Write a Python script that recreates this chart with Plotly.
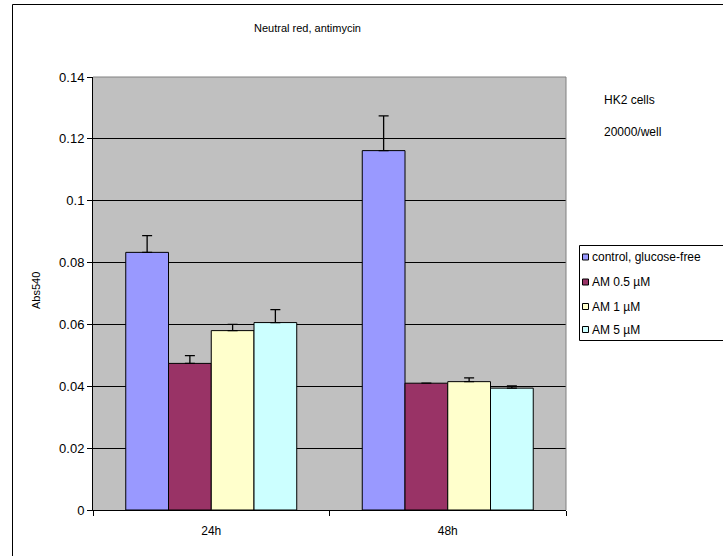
import plotly.graph_objects as go

categories = ["24h", "48h"]
series_names = ["control, glucose-free", "AM 0.5 µM", "AM 1 µM", "AM 5 µM"]
control = [0.0833, 0.1162]
am05 = [0.0474, 0.0410]
am1 = [0.0580, 0.0415]
am5 = [0.0606, 0.0394]
control_err = [0.0054, 0.0112]
am05_err = [0.0025, 0.0]
am1_err = [0.0020, 0.0012]
am5_err = [0.0042, 0.0007]
colors = ["#9999FF", "#993366", "#FFFFCC", "#CCFFFF"]
y_ticks = [0, 0.02, 0.04, 0.06, 0.08, 0.1, 0.12, 0.14]
y_tick_labels = ["0", "0.02", "0.04", "0.06", "0.08", "0.1", "0.12", "0.14"]

W, H = 723, 556
L, R, T, B = 93, 566, 77, 510
pw, ph = R - L, B - T

def px(x):
    return (x - L) / pw

def py(y):
    return (B - y) / ph

font = "Liberation Sans, Arial, sans-serif"
fig = go.Figure()
for name, vals, errs, col in zip(series_names, [control, am05, am1, am5],
                                  [control_err, am05_err, am1_err, am5_err], colors):
    fig.add_trace(go.Bar(
        x=categories, y=vals, name=name, showlegend=False,
        marker=dict(color=col, line=dict(color="#000000", width=1)),
        error_y=dict(type="data", array=errs, symmetric=False, arrayminus=[0, 0],
                     color="#000000", thickness=1.3, width=5),
    ))

def seg(x0, y0, x1, y1, color="#000000"):
    return dict(type="line", xref="paper", yref="paper", x0=px(x0), x1=px(x1),
                y0=py(y0), y1=py(y1), line=dict(color=color, width=1), layer="above")

shapes = [
    dict(type="line", xref="paper", yref="paper", x0=0, x1=1, y0=1, y1=1,
         line=dict(color="#808080", width=1), layer="above"),
    dict(type="line", xref="paper", yref="paper", x0=1, x1=1, y0=0, y1=1,
         line=dict(color="#808080", width=1), layer="above"),
    # outer chart border (top and left visible)
    seg(12.5, 4.5, 723, 4.5),
    seg(12.5, 4.5, 12.5, 556),
    # legend box (continues past the right edge)
    seg(579.5, 245.5, 723, 245.5),
    seg(579.5, 340.5, 723, 340.5),
    seg(579.5, 245.5, 579.5, 340.5),
]
annotations = [
    dict(text="Neutral red, antimycin", xref="paper", yref="paper",
         x=px(307), y=py(28), showarrow=False, xanchor="center", yanchor="middle",
         font=dict(size=11, family=font)),
    dict(text="Abs540", xref="paper", yref="paper", x=px(36), y=py(291),
         showarrow=False, textangle=-90, xanchor="center", yanchor="middle",
         font=dict(size=11, family=font)),
    dict(text="HK2 cells", xref="paper", yref="paper", x=px(602), y=py(100),
         showarrow=False, xanchor="left", yanchor="middle",
         font=dict(size=12, family=font)),
    dict(text="20000/well", xref="paper", yref="paper", x=px(602), y=py(132),
         showarrow=False, xanchor="left", yanchor="middle",
         font=dict(size=12, family=font)),
]
legend_y = [257, 282, 306.5, 329.5]
for name, col, ly in zip(series_names, colors, legend_y):
    shapes.append(dict(type="rect", xref="paper", yref="paper",
                       x0=px(582.5), x1=px(588.5), y0=py(ly + 3), y1=py(ly - 3),
                       line=dict(color="#000000", width=1), fillcolor=col, layer="above"))
    annotations.append(dict(text=name, xref="paper", yref="paper", x=px(590), y=py(ly),
                            showarrow=False, xanchor="left", yanchor="middle",
                            font=dict(size=12, family=font)))

fig.update_layout(
    width=W, height=H,
    margin=dict(l=L, r=W - R, t=T, b=H - B, pad=0),
    paper_bgcolor="white", plot_bgcolor="#C0C0C0",
    barmode="group", bargap=0.277, bargroupgap=0,
    font=dict(family=font, size=11, color="#000000"),
    showlegend=False,
    xaxis=dict(type="category", showline=True, linecolor="#000000", linewidth=1,
               ticks="outside", tickson="boundaries", ticklen=5, tickcolor="#000000",
               showgrid=False, tickfont=dict(size=12, family=font), fixedrange=True,
               ticklabelstandoff=10),
    yaxis=dict(range=[0, 0.14], tickvals=y_ticks, ticktext=y_tick_labels,
               showline=True, linecolor="#000000", linewidth=1,
               ticks="outside", ticklen=5, tickcolor="#000000",
               showgrid=True, gridcolor="#000000", gridwidth=1, zeroline=False,
               tickfont=dict(size=13, family=font), fixedrange=True),
    shapes=shapes,
    annotations=annotations,
)

fig.write_html("out.html", config={"displayModeBar": False},
               post_script="document.body.style.margin='0';document.body.style.overflow='hidden';")
